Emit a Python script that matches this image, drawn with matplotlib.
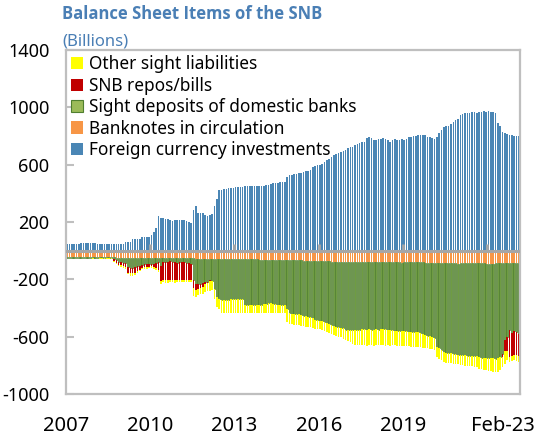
import numpy as np
import matplotlib.pyplot as plt
from matplotlib.patches import Patch

plt.rcParams['font.family'] = ['Noto Sans', 'DejaVu Sans']
plt.rcParams['axes.unicode_minus'] = False

# monthly, Jan 2007 - Feb 2023, billions of CHF
fx_invest = [
    48, 48, 48, 49, 49, 49, 52, 52, 53, 53, 52, 52,
    52, 50, 49, 49, 49, 49, 49, 49, 48, 49, 50, 49,
    49, 60, 60, 60, 84, 84, 84, 84, 96, 96, 96, 96,
    112, 130, 158, 240, 228, 225, 222, 218, 215, 205, 212, 212,
    212, 214, 212, 210, 200, 192, 282, 310, 265, 265, 262, 250,
    245, 248, 253, 310, 363, 420, 425, 428, 432, 435, 437, 440,
    442, 444, 445, 447, 449, 449, 450, 449, 451, 450, 452, 448,
    450, 455, 460, 468, 470, 472, 474, 476, 478, 480, 515, 525,
    530, 535, 538, 540, 545, 550, 553, 556, 560, 585, 590, 595,
    600, 605, 618, 630, 640, 655, 666, 672, 680, 688, 695, 700,
    713, 720, 725, 736, 742, 748, 755, 760, 783, 790, 785, 771,
    775, 778, 780, 783, 780, 775, 760, 772, 776, 775, 771, 776,
    774, 778, 790, 795, 798, 802, 805, 810, 810, 808, 795, 790,
    785, 782, 790, 818, 845, 860, 868, 870, 886, 900, 910, 921,
    945, 950, 957, 962, 960, 965, 968, 962, 970, 968, 972, 965,
    975, 968, 970, 960, 890, 872, 830, 822, 815, 808, 805, 800,
    802, 798]

banknotes = [
    44, 44, 43, 43, 43, 43, 43, 43, 43, 44, 44, 46,
    44, 44, 44, 44, 44, 44, 44, 44, 45, 48, 49, 50,
    49, 49, 49, 49, 49, 49, 49, 49, 49, 49, 50, 52,
    50, 50, 50, 50, 50, 50, 50, 50, 50, 50, 51, 53,
    51, 51, 51, 51, 51, 52, 53, 55, 55, 55, 55, 57,
    56, 56, 56, 56, 56, 56, 56, 57, 57, 57, 58, 61,
    59, 59, 59, 60, 60, 60, 60, 61, 61, 61, 62, 65,
    63, 63, 63, 63, 63, 64, 64, 64, 65, 65, 66, 68,
    68, 68, 68, 68, 68, 69, 70, 70, 71, 71, 72, 75,
    74, 74, 74, 75, 75, 76, 76, 76, 77, 77, 78, 80,
    78, 78, 78, 78, 78, 79, 79, 79, 79, 79, 80, 82,
    80, 80, 80, 80, 80, 80, 80, 80, 80, 80, 81, 84,
    82, 82, 82, 82, 82, 82, 82, 82, 82, 83, 83, 86,
    84, 84, 85, 86, 87, 87, 87, 87, 87, 87, 88, 90,
    88, 88, 88, 88, 88, 88, 88, 89, 89, 89, 89, 92,
    90, 90, 90, 89, 88, 87, 86, 86, 85, 85, 85, 87,
    84, 83]

sight_dep = [
    5, 5, 6, 5, 5, 5, 6, 5, 5, 5, 6, 6,
    6, 6, 6, 7, 6, 6, 7, 7, 12, 20, 30, 30,
    35, 40, 65, 70, 72, 68, 60, 55, 48, 45, 45, 42,
    42, 40, 38, 30, 60, 28, 30, 27, 25, 28, 30, 35,
    30, 28, 30, 32, 35, 40, 150, 180, 175, 175, 168, 165,
    160, 152, 155, 210, 270, 280, 290, 290, 288, 285, 282, 277,
    278, 276, 275, 278, 318, 320, 320, 319, 318, 318, 316, 312,
    310, 308, 305, 304, 308, 310, 312, 313, 314, 315, 340, 370,
    372, 373, 374, 375, 382, 385, 386, 390, 392, 400, 410, 410,
    415, 420, 425, 428, 435, 440, 450, 455, 458, 460, 465, 470,
    472, 473, 472, 473, 473, 472, 470, 468, 472, 470, 470, 468,
    468, 470, 468, 466, 468, 470, 472, 475, 477, 478, 476, 475,
    478, 480, 482, 484, 485, 486, 488, 492, 500, 505, 510, 512,
    518, 523, 590, 595, 605, 620, 625, 628, 630, 632, 634, 635,
    640, 640, 642, 644, 645, 646, 648, 648, 655, 658, 660, 658,
    660, 662, 662, 664, 664, 655, 634, 534, 515, 471, 490, 473,
    486, 495]

repos_bills = [
    0, 0, 0, 0, 0, 0, 0, 0, 0, 0, 0, 0,
    0, 0, 0, 0, 0, 0, 0, 0, 12, 15, 18, 22,
    22, 25, 40, 38, 35, 38, 30, 30, 22, 22, 20, 18,
    18, 22, 35, 55, 100, 125, 128, 130, 132, 128, 125, 118,
    125, 128, 126, 122, 120, 112, 55, 40, 40, 30, 30, 10,
    8, 5, 3, 0, 0, 0, 0, 0, 0, 0, 0, 0,
    0, 0, 0, 0, 0, 0, 0, 0, 0, 0, 0, 0,
    0, 0, 0, 0, 0, 0, 0, 0, 0, 0, 0, 0,
    0, 0, 0, 0, 0, 0, 0, 0, 0, 0, 0, 0,
    0, 0, 0, 0, 0, 0, 0, 0, 0, 0, 0, 0,
    0, 0, 0, 0, 0, 0, 0, 0, 0, 0, 0, 0,
    0, 0, 0, 0, 0, 0, 0, 0, 0, 0, 0, 0,
    0, 0, 0, 0, 0, 0, 0, 0, 0, 0, 0, 0,
    0, 0, 0, 0, 0, 0, 0, 0, 0, 0, 0, 0,
    0, 0, 0, 0, 0, 0, 0, 0, 0, 0, 0, 0,
    0, 0, 0, 0, 0, 0, 20, 80, 100, 184, 160, 170,
    160, 157]

other_sight = [
    3, 3, 3, 3, 3, 3, 3, 3, 3, 3, 3, 3,
    4, 4, 5, 5, 6, 6, 6, 6, 8, 10, 12, 13,
    14, 12, 12, 18, 20, 17, 14, 10, 12, 14, 14, 12,
    12, 13, 14, 12, 20, 18, 15, 16, 15, 16, 17, 14,
    14, 15, 13, 15, 14, 16, 60, 47, 40, 45, 47, 55,
    58, 65, 62, 70, 70, 68, 86, 85, 90, 93, 95, 97,
    98, 100, 101, 97, 57, 55, 55, 55, 56, 56, 57, 58,
    60, 64, 68, 68, 64, 62, 60, 58, 56, 57, 90, 75,
    73, 75, 76, 77, 77, 75, 75, 73, 72, 70, 63, 62,
    60, 58, 61, 62, 62, 62, 64, 65, 67, 68, 70, 70,
    80, 87, 100, 104, 107, 110, 112, 113, 111, 112, 110, 112,
    113, 111, 112, 115, 114, 111, 110, 106, 104, 105, 106, 106,
    106, 105, 104, 104, 103, 104, 104, 101, 94, 89, 88, 86,
    85, 84, 70, 72, 68, 70, 70, 70, 70, 70, 70, 68,
    72, 73, 73, 73, 73, 74, 74, 75, 79, 80, 82, 85,
    88, 90, 93, 94, 93, 90, 70, 90, 60, 40, 35, 35,
    40, 40]

year_labels = ['2007', '2010', '2013', '2016', '2019', 'Feb-23']
year_pos = [-0.5, 35.5, 71.5, 107.5, 143.5, 186.2]

blue = '#4a86b5'
orange = '#f79646'
green = '#6f9c43'
green_edge = '#4f7f2f'
green_leg = '#9bbb59'
red = '#c00000'
yellow = '#ffff00'
grey = '#bfbfbf'
titlec = '#4a7fb5'

x = np.arange(len(fx_invest))
notes = np.array(banknotes)
sight = np.array(sight_dep)
repos = np.array(repos_bills)
other = np.array(other_sight)

fig = plt.figure(figsize=(5.37, 4.37), dpi=100)
ax = fig.add_axes([66/537, 1-394/437, (520-66)/537, (394-50)/437])

w = 0.68
b1 = ax.bar(x, fx_invest, w, color=blue, lw=0)
b2 = ax.bar(x, -notes, w, color=orange, lw=0)
b3 = ax.bar(x, -sight, w, bottom=-notes, color=green, edgecolor=green_edge, lw=0.5)
b4 = ax.bar(x, -repos, w, bottom=-(notes+sight), color=red, lw=0)
b5 = ax.bar(x, -other, w, bottom=-(notes+sight+repos), color=yellow, lw=0)

ax.axhline(0, color='#a6a6a6', lw=2.2, zorder=3)
ax.vlines([35.5, 71.5, 107.5, 143.5, 179.5], 0, 50, color='#a6a6a6', lw=2, zorder=3)

ax.set_xlim(-0.5, 193.5)
ax.set_ylim(-1000, 1400)
ax.set_yticks(range(-1000, 1401, 400))
ax.set_xticks(year_pos, year_labels)
ax.tick_params(axis='y', direction='in', length=6, width=1.5, color=grey, labelsize=13, pad=12)
ax.tick_params(axis='x', length=0, labelsize=14.5, pad=16)
for s in ax.spines.values():
    s.set_color(grey)
    s.set_linewidth(1.6)

leg_green = Patch(facecolor=green_leg, edgecolor=green_edge, lw=0.8)
ax.legend([b5, b4, leg_green, b2, b1],
          ['Other sight liabilities', 'SNB repos/bills', 'Sight deposits of domestic banks',
           'Banknotes in circulation', 'Foreign currency investments'],
          loc='upper left', frameon=False, fontsize=12.4, handlelength=0.7, handleheight=0.7,
          handletextpad=0.35, labelspacing=0.2, borderaxespad=0.1, borderpad=0.2)

fig.text(62/537, 1-14/437, 'Balance Sheet Items of the SNB', fontsize=12, fontweight='bold',
         color=titlec, va='center', family=['Open Sans', 'DejaVu Sans'])
fig.text(62/537, 1-42/437, '(Billions)', fontsize=12, color=titlec, va='center')

fig.savefig('out.png', dpi=100)
